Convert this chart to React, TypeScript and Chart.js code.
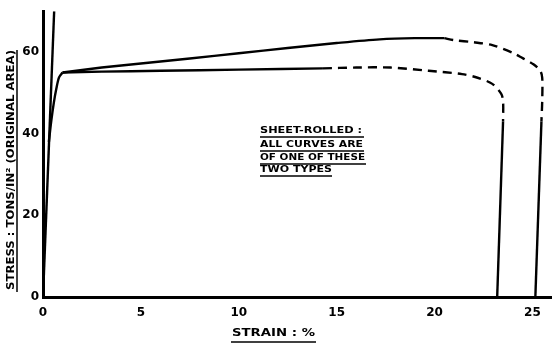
import React, { useEffect, useRef } from "react";
import { Chart, registerables } from "chart.js";

Chart.register(...registerables);

// ---- Data (strain %, stress tons/in²) ----
const elasticStrain = [0, 0.57];
const elasticStress = [0, 70];

const yieldStrain = [0.3, 0.42, 0.55, 0.68, 0.82, 1.0];
const yieldStress = [38, 43, 47.5, 51, 53.8, 55];

const upperSolidStrain = [1.0, 3, 5, 7.5, 10, 12.5, 15, 17.2, 19, 20.5];
const upperSolidStress = [55, 56.2, 57.2, 58.4, 59.7, 61, 62.2, 63.1, 63.4, 63.4];

const upperDashStrain = [20.5, 21.0, 22.0, 22.95, 24.0, 24.5, 25.05, 25.4, 25.5, 25.5, 25.46];
const upperDashStress = [63.4, 62.9, 62.4, 61.7, 59.8, 58.5, 57, 55.4, 53.7, 48, 43];

const upperDropStrain = [25.46, 25.15];
const upperDropStress = [43, 0];

const lowerSolidStrain = [1.0, 3, 6, 10, 14.3];
const lowerSolidStress = [55, 55.2, 55.4, 55.7, 56];

const lowerDashStrain = [14.3, 16, 17.75, 19.7, 21.4, 22.2, 22.95, 23.4, 23.5, 23.5];
const lowerDashStress = [56, 56.2, 56.2, 55.4, 54.6, 53.7, 52.2, 49.8, 48, 43];

const lowerDropStrain = [23.5, 23.2];
const lowerDropStress = [43, 0];

const xTicks = [0, 5, 10, 15, 20, 25];
const yTicks = [0, 20, 40, 60];

const xTitle = "STRAIN : %";
const yTitle = "STRESS : TONS/IN² (ORIGINAL AREA)";
const noteLines = ["SHEET-ROLLED :", "ALL CURVES ARE", "OF ONE OF THESE", "TWO TYPES"];

const pts = (xs: number[], ys: number[]) => xs.map((x, i) => ({ x, y: ys[i] }));

function fitText(ctx: CanvasRenderingContext2D, text: string, x: number, y: number, w: number, font: string) {
  ctx.font = font;
  const m = ctx.measureText(text).width;
  ctx.save();
  ctx.translate(x, y);
  ctx.scale(w / m, 1);
  ctx.textAlign = "left";
  ctx.textBaseline = "middle";
  ctx.fillText(text, 0, 0);
  ctx.restore();
}

function line(ctx: CanvasRenderingContext2D, x1: number, y1: number, x2: number, y2: number, w: number) {
  ctx.beginPath();
  ctx.lineWidth = w;
  ctx.moveTo(x1, y1);
  ctx.lineTo(x2, y2);
  ctx.stroke();
}

const textPlugin = {
  id: "handText",
  afterDraw(chart: any) {
    const ctx: CanvasRenderingContext2D = chart.ctx;
    ctx.save();
    ctx.fillStyle = "#000";
    ctx.strokeStyle = "#000";
    // Y title (rotated)
    ctx.save();
    ctx.translate(11, 170);
    ctx.rotate(-Math.PI / 2);
    fitText(ctx, yTitle, -120, 0, 240, 'bold 10px "DejaVu Sans"');
    line(ctx, -122, 6, 120, 6, 1.5);
    ctx.restore();
    // X title
    fitText(ctx, xTitle, 232, 333, 83, 'bold 10px "DejaVu Sans"');
    line(ctx, 231, 342, 316, 342, 1.5);
    // Note
    const ys = [131, 145, 158, 170];
    const ws = [102, 103, 105, 72];
    const uw = [104, 104, 106, 72];
    noteLines.forEach((t, i) => {
      fitText(ctx, t, 260, ys[i], ws[i], 'bold 8px "DejaVu Sans"');
      line(ctx, 260, ys[i] + 6, 260 + uw[i], ys[i] + 6, 1.5);
    });
    ctx.restore();
  },
};

export default function App() {
  const ref = useRef<HTMLCanvasElement>(null);
  useEffect(() => {
    if (!ref.current) return;
    const solid = (data: any, tension = 0.25) => ({
      data,
      borderColor: "#000",
      borderWidth: 2.4,
      pointRadius: 0,
      tension,
      fill: false,
    });
    const dashed = (data: any) => ({ ...solid(data, 0.3), borderDash: [9, 6] });
    const chart = new Chart(ref.current, {
      type: "line",
      data: {
        datasets: [
          solid(pts(elasticStrain, elasticStress), 0),
          solid(pts(yieldStrain, yieldStress), 0.3),
          solid(pts(upperSolidStrain, upperSolidStress), 0.3),
          dashed(pts(upperDashStrain, upperDashStress)),
          solid(pts(upperDropStrain, upperDropStress), 0),
          solid(pts(lowerSolidStrain, lowerSolidStress), 0.3),
          dashed(pts(lowerDashStrain, lowerDashStress)),
          solid(pts(lowerDropStrain, lowerDropStress), 0),
        ] as any,
      },
      options: {
        responsive: false,
        animation: false,
        layout: { padding: { top: 10, right: 0, left: 0, bottom: 0 } },
        plugins: { legend: { display: false }, tooltip: { enabled: false } },
        scales: {
          x: {
            type: "linear",
            min: 0,
            max: 26,
            grid: { display: false, drawTicks: false },
            border: { display: true, color: "#000", width: 3 },
            afterBuildTicks: (s: any) => {
              s.ticks = xTicks.map((v) => ({ value: v }));
            },
            afterFit: (s: any) => {
              s.height = 51;
            },
            ticks: {
              color: "#000",
              padding: 9,
              maxRotation: 0,
              font: { family: "DejaVu Sans", weight: "bold", size: 12 },
            },
          },
          y: {
            type: "linear",
            min: 0,
            max: 70,
            grid: { display: false, drawTicks: false },
            border: { display: true, color: "#000", width: 3 },
            afterBuildTicks: (s: any) => {
              s.ticks = yTicks.map((v) => ({ value: v }));
            },
            afterFit: (s: any) => {
              s.width = 43;
            },
            ticks: {
              color: "#000",
              padding: 4,
              font: { family: "DejaVu Sans", weight: "bold", size: 12 },
            },
          },
        },
      } as any,
      plugins: [textPlugin],
    });
    return () => chart.destroy();
  }, []);
  return (
    <div style={{ position: "absolute", left: 0, top: 0, width: 552, height: 348, background: "#fff" }}>
      <canvas ref={ref} width={552} height={348} style={{ display: "block" }} />
    </div>
  );
}
